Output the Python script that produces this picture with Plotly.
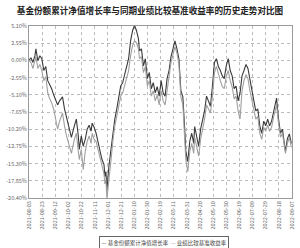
import plotly.graph_objects as go

days = [0, 3, 6, 9, 10.5, 13.5, 16.5, 19.5, 22.5, 25.5, 28.5, 31.5, 34.5, 37.5, 40.5, 43.5, 46.5, 51, 54, 57,
        61.5, 64.5, 69, 72, 75, 76.5, 79.5, 82.5, 85.5, 88.5, 91.5, 94.5, 96, 99, 102, 105, 108, 111, 114, 115.5,
        117, 118.5, 121.5, 124.5, 127.5, 130.5, 133.5, 136.5, 139.5, 142.5, 145.5, 148.5, 151.5, 154.5, 157.5, 160.5, 163.5, 166.5, 168, 171,
        174, 177, 180, 183, 186, 189, 192, 195, 198, 201, 204, 207, 210, 213, 216, 219, 222, 225, 228, 231,
        234, 237, 238.5, 241.5, 244.5, 247.5, 250.5, 252, 255, 258, 261, 264, 267, 270, 273, 276, 279, 282, 285, 288,
        291, 294, 297, 300, 303, 306, 309, 312, 315, 318, 321, 324, 327, 330, 333, 336, 339, 342, 345, 348,
        351, 354, 357, 360, 363, 366, 369, 372, 375, 376.5, 379.5, 382.5, 385.5, 388.5, 390, 393, 396, 399]

fund = [0.0, 0.4, -0.3, 0.7, 1.7, -0.05, 0.7, 0.25, -1.5, -0.9, -3.0, -3.6, -4.2, -5.1, -6.0, -6.6, -6.0, -5.4, -7.2, -8.3,
        -10.2, -11.4, -9.7, -8.7, -11.2, -13.2, -11.2, -12.7, -11.7, -10.2, -9.6, -10.5, -9.3, -9.9, -10.8, -12.0, -13.5, -14.7, -15.4, -17.2,
        -16.5, -19.2, -15.7, -13.5, -10.5, -8.7, -7.2, -5.7, -3.8, -3.3, -2.1, -0.9, 0.25, 2.9, 4.4, 5.2, 4.4, 3.2, 1.4, 1.7,
        -0.8, 0.25, -2.7, -1.8, -4.2, -3.3, -4.8, -3.9, -5.3, -3.0, -4.8, -5.3, -2.7, -1.5, 0.55, 1.7, 2.9, 1.7, 0.25, -4.5,
        -5.4, -10.5, -13.5, -15.0, -12.0, -10.8, -12.3, -9.8, -11.2, -12.7, -10.2, -8.7, -7.5, -5.3, -6.0, -6.8, -3.8, -0.3, 0.25, -0.9,
        -1.5, -2.3, -2.7, -0.8, 0.25, -1.5, -2.3, -4.2, -3.8, -6.0, -4.8, -2.3, -1.5, -0.6, -1.2, -3.0, -4.8, -6.0, -7.5, -7.2,
        -9.7, -10.8, -9.0, -9.7, -8.7, -9.7, -9.0, -7.5, -6.0, -5.6, -8.7, -10.8, -10.2, -12.0, -13.5, -11.6, -10.9, -12.3]

bench = [0.0, -0.3, -1.2, 0.0, 0.55, -1.2, -0.6, -1.5, -3.0, -2.4, -4.8, -5.7, -6.3, -7.2, -8.7, -10.2, -9.0, -7.8, -9.7, -11.2,
         -12.7, -13.8, -11.7, -10.8, -13.5, -14.7, -13.2, -16.2, -13.5, -12.0, -11.2, -12.3, -10.8, -11.7, -12.0, -13.2, -14.7, -15.7, -16.8, -18.3,
         -17.7, -20.5, -17.2, -15.0, -12.0, -9.7, -8.3, -6.8, -5.3, -4.8, -3.6, -2.7, -1.5, 0.7, 2.2, 2.9, 2.6, 1.7, 0.25, 0.55,
         -1.8, -0.9, -3.8, -3.0, -5.3, -4.5, -6.0, -5.1, -6.6, -4.5, -6.0, -6.6, -4.2, -2.7, -0.3, 0.85, 2.0, 1.1, -0.6, -5.4,
         -6.6, -12.0, -14.7, -16.5, -13.5, -12.3, -13.8, -11.4, -12.7, -14.2, -11.7, -10.2, -8.7, -6.6, -7.2, -7.8, -5.3, -1.8, -0.9, -2.1,
         -3.0, -3.9, -4.2, -2.4, -1.5, -3.0, -3.9, -5.7, -5.3, -7.5, -8.7, -4.5, -3.0, -2.1, -2.7, -4.5, -6.0, -7.2, -8.7, -8.3,
         -10.8, -11.7, -9.9, -10.5, -9.6, -10.5, -9.9, -8.4, -6.9, -6.6, -9.3, -11.4, -10.8, -12.6, -13.8, -12.3, -11.4, -12.9]

tick_days = [0, 20, 40, 60, 80, 100, 120, 140, 160, 180, 200, 220, 240, 260, 280, 300, 320, 340, 360, 380, 400]
tick_labels = ["2021-08-03", "2021-08-23", "2021-09-12", "2021-10-02", "2021-10-22", "2021-11-11", "2021-12-01",
               "2021-12-21", "2022-01-10", "2022-01-30", "2022-02-19", "2022-03-11", "2022-03-31", "2022-04-20",
               "2022-05-10", "2022-05-30", "2022-06-19", "2022-07-09", "2022-07-29", "2022-08-18", "2022-09-07"]
y_ticks = [5.10, 2.55, 0.00, -2.55, -5.10, -7.65, -10.20, -12.75, -15.30, -17.85, -20.40]

names = ["基金份额累计净值增长率", "业绩比较基准收益率"]
colors = ["#3a3a3a", "#a0a0a0"]
font = "Noto Sans CJK SC"

fig = go.Figure()
fig.add_trace(go.Scatter(x=days, y=fund, mode="lines", name=names[0],
                         line=dict(color=colors[0], width=1.1)))
fig.add_trace(go.Scatter(x=days, y=bench, mode="lines", name=names[1],
                         line=dict(color=colors[1], width=1.1)))

legend_text = "  ".join(
    f"<span style='color:{c}'>—</span> {n}" for n, c in zip(names, colors))

fig.update_layout(
    width=300, height=248,
    margin=dict(l=29, r=4, t=26, b=50),
    paper_bgcolor="white", plot_bgcolor="white",
    font=dict(family=font, color="#555"),
    title=dict(text="<b>基金份额累计净值增长率与同期业绩比较基准收益率的历史走势对比图</b>",
               x=0.5, xref="container", y=0.955, yref="container", yanchor="middle",
               font=dict(size=8.6, color="#222", family=font)),
    showlegend=False,
    annotations=[dict(text=legend_text, xref="paper", yref="paper", x=0.515, y=-0.26,
                      xanchor="center", yanchor="middle", showarrow=False,
                      font=dict(size=5.5, color="#444", family=font),
                      bordercolor="#666", borderwidth=1, borderpad=1.5, bgcolor="white")],
)
fig.update_xaxes(range=[0, 400], tickmode="array", tickvals=tick_days, ticktext=tick_labels,
                 tickangle=-90, tickfont=dict(size=5.5, color="#666"),
                 showgrid=True, gridcolor="#bbb", griddash="dot", gridwidth=1,
                 showline=True, linecolor="#999", mirror=True, zeroline=False, ticks="")
fig.update_yaxes(range=[-20.4, 5.1], tickmode="array", tickvals=y_ticks,
                 ticktext=[f"{v:.2f}%" for v in y_ticks],
                 tickfont=dict(size=5.5, color="#666"),
                 showgrid=True, gridcolor="#bbb", griddash="dot", gridwidth=1,
                 showline=True, linecolor="#999", mirror=True, zeroline=False, ticks="")

fig.write_html("out.html")
